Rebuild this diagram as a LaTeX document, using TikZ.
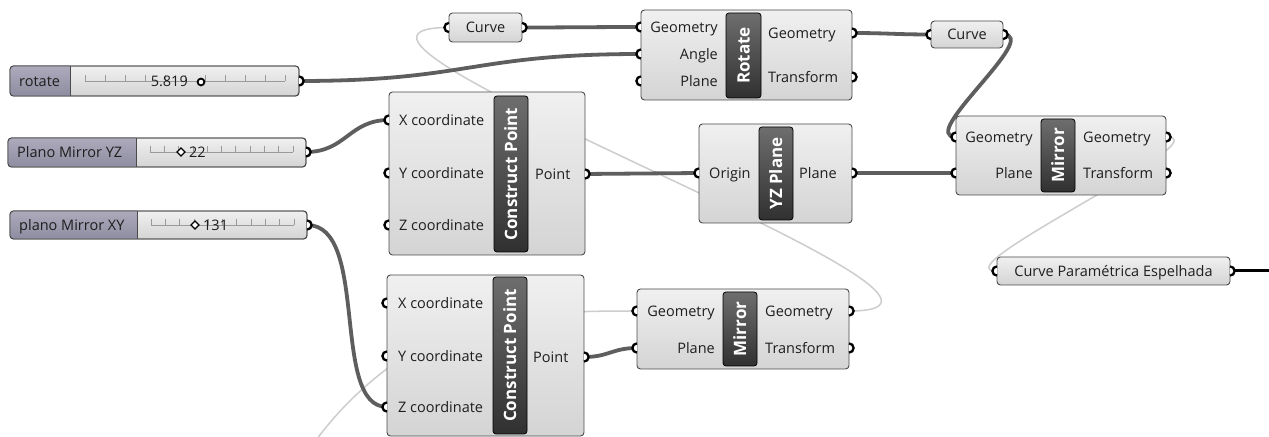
\documentclass[tikz,border=0pt]{standalone}
\usepackage{fontspec}
\setmainfont{Open Sans}
\usetikzlibrary{calc}
\pgfdeclarelayer{wires}
\pgfsetlayers{wires,main}

\definecolor{boxtop}{HTML}{F0F0F0}
\definecolor{boxbot}{HTML}{D4D4D4}
\definecolor{boxline}{HTML}{4A4A4A}
\definecolor{bandtop}{HTML}{6E6E6E}
\definecolor{bandbot}{HTML}{303030}
\definecolor{lavtop}{HTML}{ACAABB}
\definecolor{lavbot}{HTML}{8E8CA0}
\definecolor{wirec}{HTML}{5E5E5E}
\definecolor{ghostc}{HTML}{CDCDCD}
\definecolor{tickc}{HTML}{9A9A9A}
\definecolor{txt}{HTML}{1E1E1E}

\tikzset{
  comp/.style={draw=boxline, line width=0.9bp, rounded corners=3.5bp,
    top color=boxtop, bottom color=boxbot, anchor=north west,
    inner sep=0pt, outer sep=0pt},
  band/.style={draw=black, line width=0.8bp, rounded corners=3bp,
    top color=bandtop, bottom color=bandbot, inner sep=0pt, outer sep=0pt},
  bandtxt/.style={text=white, font=\fontsize{17bp}{18bp}\selectfont\bfseries,
    rotate=90, inner sep=0pt, text height=12bp, text depth=0pt},
  lab/.style={text=txt, font=\fontsize{14.5bp}{16bp}\selectfont,
    inner sep=0pt, text height=10.5bp, text depth=0pt},
  wire/.style={draw=wirec, line width=3.8bp},
  ghost/.style={draw=ghostc, line width=1.5bp},
  tick/.style={draw=tickc, line width=0.7bp},
  gripline/.style={draw=black, line width=2.3bp},
}

% component body from (x0,y0) to (x1,y1)
\newcommand\comp[5]{%
  \pgfmathsetmacro\cw{#4-#2}\pgfmathsetmacro\ch{#5-#3}%
  \node[comp, minimum width=\cw bp, minimum height=\ch bp] (#1) at (#2,#3) {};}
% dark title band with rotated caption
\newcommand\band[6]{%
  \pgfmathsetmacro\cw{#4-#2}\pgfmathsetmacro\ch{#5-#3}%
  \node[band, minimum width=\cw bp, minimum height=\ch bp] (#1)
    at ({(#2+#4)/2},{(#3+#5)/2}) {};
  \node[bandtxt] (#1-t) at (#1.center) {#6};}
% number slider: name, x0, y0, x1, y1, split, caption
\newcommand\slider[7]{%
  \comp{#1}{#2}{#3}{#4}{#5}
  \begin{scope}
    \clip (#2-2,#3-2) rectangle (#6,#5+2);
    \fill[top color=lavtop, bottom color=lavbot, rounded corners=3.5bp]
      (#2,#3) rectangle (#4,#5);
  \end{scope}
  \draw[boxline, line width=0.9bp] (#6,#3) -- (#6,#5);
  \draw[boxline, line width=0.9bp, rounded corners=3.5bp] (#2,#3) rectangle (#4,#5);
  \node[lab, anchor=west] (#1-lab) at ({#2+9},{(#3+#5)/2}) {#7};}
% input and output grips
\newcommand\gin[1]{%
  \fill[white] ($(#1)+(0,-4.6)$) arc[start angle=90,end angle=270,radius=4.6bp] -- cycle;
  \draw[gripline] ($(#1)+(0,-4.6)$) arc[start angle=90,end angle=270,radius=4.6bp];}
\newcommand\gout[1]{%
  \fill[white] ($(#1)+(0,-4.6)$) arc[start angle=90,end angle=-90,radius=4.6bp] -- cycle;
  \draw[gripline] ($(#1)+(0,-4.6)$) arc[start angle=90,end angle=-90,radius=4.6bp];}

\begin{document}
\begin{tikzpicture}[x=1bp,y=-1bp]
\useasboundingbox (0,0) rectangle (1269,437);

% ---------- sliders ----------
\slider{s1}{10}{66}{299}{96}{70}{rotate}
\slider{s2}{8}{138}{306}{167}{136}{Plano Mirror YZ}
\slider{s3}{10}{211}{307}{239}{137}{plano Mirror XY}

\draw[tick] (85,81) -- (285,81);
\foreach \i in {0,...,10} \draw[tick] ({85+20*\i},81) -- ++(0,-6);
\draw[tick] (150,152) -- (293,152);
\foreach \i in {0,...,10} \draw[tick] ({150+14.3*\i},152) -- ++(0,-6);
\draw[tick] (151,225) -- (294,225);
\foreach \i in {0,...,10} \draw[tick] ({151+14.3*\i},225) -- ++(0,-6);

\node[lab, anchor=east] (s1-val) at (188,81) {5.819};
\draw[black, line width=1.8bp, fill=white] (201,82) circle[radius=3.4bp];
\draw[black, line width=1.3bp, fill=white] (181,152) +(-4,0) -- +(0,-4) -- +(4,0) -- +(0,4) -- cycle;
\node[lab, anchor=west] (s2-val) at (189,152) {22};
\draw[black, line width=1.3bp, fill=white] (195,225) +(-4,0) -- +(0,-4) -- +(4,0) -- +(0,4) -- cycle;
\node[lab, anchor=west] (s3-val) at (203,225) {131};

% ---------- components ----------
\comp{curveA}{449}{13}{522}{42}
\node[lab] (curveA-t) at (485.5,27.5) {Curve};

\comp{rot}{641}{10}{852}{100}
\band{rotb}{726}{13}{761}{98}{Rotate}
\node[lab, anchor=east] (rot-l1) at (718,27) {Geometry};
\node[lab, anchor=east] (rot-l2) at (718,54) {Angle};
\node[lab, anchor=east] (rot-l3) at (718,81) {Plane};
\node[lab, anchor=west] (rot-r1) at (768,33) {Geometry};
\node[lab, anchor=west] (rot-r2) at (768,77) {Transform};

\comp{curveB}{931}{21}{1003}{48}
\node[lab] (curveB-t) at (967,34.5) {Curve};

\comp{cp1}{389}{92}{585}{255}
\band{cp1b}{494}{96}{528}{252}{Construct Point}
\node[lab, anchor=west] (cp1-l1) at (399,120) {X coordinate};
\node[lab, anchor=west] (cp1-l2) at (399,173) {Y coordinate};
\node[lab, anchor=west] (cp1-l3) at (399,225) {Z coordinate};
\node[lab, anchor=west] (cp1-r1) at (535,174) {Point};

\comp{yz}{699}{124}{852}{223}
\band{yzb}{759}{127}{793}{220}{YZ Plane}
\node[lab, anchor=west] (yz-l1) at (709,173) {Origin};
\node[lab, anchor=west] (yz-r1) at (799,173) {Plane};

\comp{mir1}{956}{116}{1166}{195}
\band{mir1b}{1041}{119}{1075}{192}{Mirror}
\node[lab, anchor=east] (mir1-l1) at (1033,137) {Geometry};
\node[lab, anchor=east] (mir1-l2) at (1033,173) {Plane};
\node[lab, anchor=west] (mir1-r1) at (1083,137) {Geometry};
\node[lab, anchor=west] (mir1-r2) at (1083,173) {Transform};

\comp{cpe}{997}{257}{1230}{285}
\node[lab] (cpe-t) at (1113.5,271) {Curve Paramétrica Espelhada};

\comp{cp2}{387}{275}{584}{436}
\band{cp2b}{493}{277}{527}{434}{Construct Point}
\node[lab, anchor=west] (cp2-l1) at (398,303) {X coordinate};
\node[lab, anchor=west] (cp2-l2) at (398,356) {Y coordinate};
\node[lab, anchor=west] (cp2-l3) at (398,407) {Z coordinate};
\node[lab, anchor=west] (cp2-r1) at (533,357) {Point};

\comp{mir2}{637}{289}{849}{369}
\band{mir2b}{723}{292}{757}{366}{Mirror}
\node[lab, anchor=east] (mir2-l1) at (715,311) {Geometry};
\node[lab, anchor=east] (mir2-l2) at (715,348) {Plane};
\node[lab, anchor=west] (mir2-r1) at (765,311) {Geometry};
\node[lab, anchor=west] (mir2-r2) at (765,348) {Transform};

% ---------- grip positions ----------
\coordinate (s1-o) at (299,81);
\coordinate (s2-o) at (306,152);
\coordinate (s3-o) at (307,225);
\coordinate (curveA-i) at (449,27.5);
\coordinate (curveA-o) at (522,27.5);
\coordinate (rot-i1) at (641,27);
\coordinate (rot-i2) at (641,54);
\coordinate (rot-i3) at (641,81);
\coordinate (rot-o1) at (852,33);
\coordinate (rot-o2) at (852,77);
\coordinate (curveB-i) at (931,34.5);
\coordinate (curveB-o) at (1003,34.5);
\coordinate (cp1-i1) at (389,120);
\coordinate (cp1-i2) at (389,173);
\coordinate (cp1-i3) at (389,225);
\coordinate (cp1-o) at (585,174);
\coordinate (yz-i) at (699,173);
\coordinate (yz-o) at (852,173);
\coordinate (mir1-i1) at (956,137);
\coordinate (mir1-i2) at (956,173);
\coordinate (mir1-o1) at (1166,137);
\coordinate (mir1-o2) at (1166,173);
\coordinate (cpe-i) at (997,271);
\coordinate (cpe-o) at (1230,271);
\coordinate (cpe-end) at (1275,271);
\coordinate (cp2-i1) at (387,303);
\coordinate (cp2-i2) at (387,356);
\coordinate (cp2-i3) at (387,407);
\coordinate (cp2-o) at (584,357);
\coordinate (mir2-i1) at (637,311);
\coordinate (mir2-i2) at (637,348);
\coordinate (mir2-o1) at (849,311);
\coordinate (mir2-o2) at (849,348);
\coordinate (src-low) at (308,452);

\foreach \g in {curveA-i,rot-i1,rot-i2,rot-i3,curveB-i,cp1-i1,cp1-i2,cp1-i3,
  yz-i,mir1-i1,mir1-i2,cpe-i,cp2-i1,cp2-i2,cp2-i3,mir2-i1,mir2-i2} {\gin{\g}}
\foreach \g in {s1-o,s2-o,s3-o,curveA-o,rot-o1,rot-o2,curveB-o,cp1-o,yz-o,
  mir1-o1,mir1-o2,cpe-o,cp2-o,mir2-o1,mir2-o2} {\gout{\g}}

% ---------- wires (behind the components) ----------
\begin{pgfonlayer}{wires}
  \fill[white] (0,0) rectangle (1269,437);
  % faint wires
  \draw[ghost] (mir2-o1) .. controls +(200,0) and +(-200,0) .. (curveA-i);
  \draw[ghost] (mir1-o1) .. controls +(60,0) and +(-60,0) .. (cpe-i);
  \draw[ghost] (src-low) .. controls (345,395) and (420,330) .. (500,318)
               .. controls (560,311) and (600,311) .. (mir2-i1);
  % data wires
  \draw[wire] (curveA-o) .. controls +(40,0) and +(-40,0) .. (rot-i1);
  \draw[wire] (s1-o) .. controls +(170,0) and +(-170,0) .. (rot-i2);
  \draw[wire] (s2-o) .. controls +(40,0) and +(-40,0) .. (cp1-i1);
  \draw[wire] (s3-o) .. controls +(63,0) and +(-57,0) .. (cp2-i3);
  \draw[wire] (cp1-o) -- (yz-i);
  \draw[wire] (yz-o) -- (mir1-i2);
  \draw[wire] (rot-o1) .. controls +(35,0) and +(-35,0) .. (curveB-i);
  \draw[wire] (curveB-o) .. controls +(40,0) and +(-40,0) .. (mir1-i1);
  \draw[wire] (cp2-o) .. controls +(25,0) and +(-25,0) .. (mir2-i2);
  \draw[black, line width=3bp] (cpe-o) -- (cpe-end);
\end{pgfonlayer}
\end{tikzpicture}
\end{document}
